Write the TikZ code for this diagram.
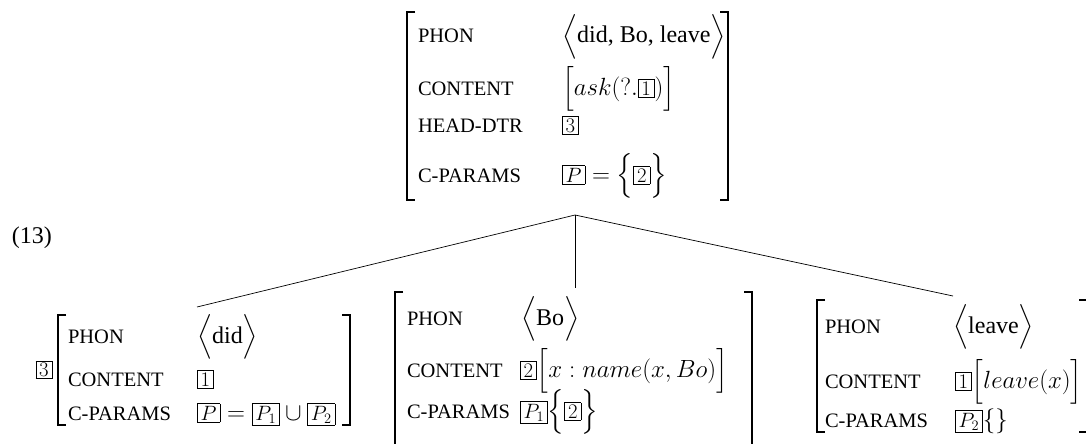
\documentclass[tikz,border=0pt]{standalone}
\usepackage{amsmath}
\usepackage[no-math]{fontspec}
\setmainfont{Liberation Serif}
\newcommand\lab[1]{{\fontsize{20.5}{24}\selectfont #1}}
\newcommand\tg[1]{{\setlength\fboxsep{1.8pt}\setlength\fboxrule{0.6pt}\fbox{\fontsize{20.74}{24}\selectfont\kern1.2pt$#1$\kern1.2pt}}}
\begin{document}
\begin{tikzpicture}[x=1pt,y=-1pt,
  every node/.style={inner sep=0pt, outer sep=0pt, font=\fontsize{24}{29}\selectfont},
  lbl/.style={anchor=base west},
  val/.style={anchor=base west},
  avm/.style={inner sep=0pt, anchor=north west},
  brk/.style={line width=1.1pt},
  edge/.style={line width=0.7pt}]
\useasboundingbox (0,0) rectangle (1086,444);

% example number
\node[lbl] (ex) at (12,243) {(13)};

% top AVM
\node[avm, minimum width=321pt, minimum height=188pt] (top) at (407,12) {};
\draw[brk] ([xshift=8pt]top.north west) -| (top.south west) -- ++(8,0);
\draw[brk] ([xshift=-8pt]top.north east) -| (top.south east) -- ++(-8,0);
\node[lbl] (t1) at (418,43) {\lab{PHON}};
\node[lbl] (t2) at (418,95) {\lab{CONTENT}};
\node[lbl] (t3) at (418,132) {\lab{HEAD-DTR}};
\node[lbl] (t4) at (418,182) {\lab{C-PARAMS}};
\node[val] (t1v) at (562,43) {$\Bigl\langle$did, Bo, leave$\Bigr\rangle$};
\node[val] (t2v) at (562,95) {$\Bigl[ask(?.\tg{1})\Bigr]$};
\node[val] (t3v) at (562,132) {\tg{3}};
\node[val] (t4v) at (562,182) {$\tg{P}=\Bigl\{\tg{2}\Bigr\}$};

% left AVM
\node[avm, minimum width=292pt, minimum height=110pt] (left) at (58,315) {};
\draw[brk] ([xshift=8pt]left.north west) -| (left.south west) -- ++(8,0);
\draw[brk] ([xshift=-8pt]left.north east) -| (left.south east) -- ++(-8,0);
\node (ltag) at (44,370) {\tg{3}};
\node[lbl] (l1) at (68,343) {\lab{PHON}};
\node[lbl] (l2) at (68,386) {\lab{CONTENT}};
\node[lbl] (l3) at (68,420) {\lab{C-PARAMS}};
\node[val] (l1v) at (197,343) {$\Bigl\langle$did$\Bigr\rangle$};
\node[val] (l2v) at (197,386) {\tg{1}};
\node[val] (l3v) at (197,420) {$\tg{P}=\tg{P_1}\cup\tg{P_2}$};

% middle AVM
\node[avm, minimum width=357pt, minimum height=170pt] (mid) at (395,292) {};
\draw[brk] ([xshift=8pt]mid.north west) -| (mid.south west) -- ++(8,0);
\draw[brk] ([xshift=-8pt]mid.north east) -| (mid.south east) -- ++(-8,0);
\node[lbl] (m1) at (407,325) {\lab{PHON}};
\node[lbl] (m2) at (407,377) {\lab{CONTENT}};
\node[lbl] (m3) at (407,418) {\lab{C-PARAMS}};
\node[val] (m1v) at (521,325) {$\Bigl\langle$Bo$\Bigr\rangle$};
\node[val] (m2v) at (520,377) {$\tg{2}\Bigl[x: name(x,Bo)\Bigr]$};
\node[val] (m3v) at (520,418) {$\tg{P_1}\Bigl\{\tg{2}\Bigr\}$};

% right AVM
\node[avm, minimum width=270pt, minimum height=132pt] (right) at (817,300) {};
\draw[brk] ([xshift=8pt]right.north west) -| (right.south west) -- ++(8,0);
\draw[brk] ([xshift=-8pt]right.north east) -| (right.south east) -- ++(-8,0);
\node[lbl] (r1) at (825,333) {\lab{PHON}};
\node[lbl] (r2) at (825,388) {\lab{CONTENT}};
\node[lbl] (r3) at (825,427) {\lab{C-PARAMS}};
\node[val] (r1v) at (953,333) {$\Bigl\langle$leave$\Bigr\rangle$};
\node[val] (r2v) at (955,388) {$\tg{1}\Bigl[leave(x)\Bigr]$};
\node[val] (r3v) at (955,427) {$\tg{P_2}\{\}$};

% tree
\coordinate (apex) at (575,215);
\coordinate (eL) at (197,307);
\coordinate (eM) at (575,288);
\coordinate (eR) at (953,296);
\draw[edge] (apex) -- (eL);
\draw[edge] (apex) -- (eM);
\draw[edge] (apex) -- (eR);
\end{tikzpicture}
\end{document}
